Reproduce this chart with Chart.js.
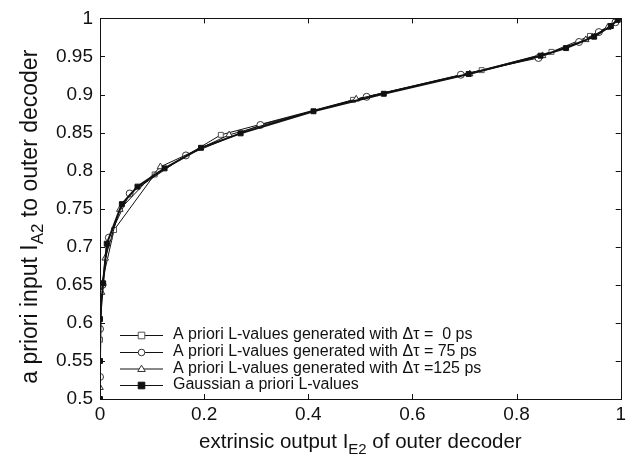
<!DOCTYPE html>
<html>
<head>
<meta charset="utf-8">
<script src="https://cdn.jsdelivr.net/npm/chart.js@4"></script>
<style>
html,body{margin:0;padding:0;background:#fff;}
#wrap{width:630px;height:463px;position:relative;}
</style>
</head>
<body>
<div id="wrap"><canvas id="c" width="630" height="463"></canvas></div>
<script>
// ---- data ----
const xTicks = [0, 0.2, 0.4, 0.6, 0.8, 1];
const yTicks = [0.5, 0.55, 0.6, 0.65, 0.7, 0.75, 0.8, 0.85, 0.9, 0.95, 1];

const legendLabels = [
  "A priori L-values generated with \u0394\u03c4 =  0 ps",
  "A priori L-values generated with \u0394\u03c4 = 75 ps",
  "A priori L-values generated with \u0394\u03c4 =125 ps",
  "Gaussian a priori L-values"
];

const tau0X   = [0, 0.003, 0.027, 0.105, 0.232, 0.486, 0.733, 0.867, 0.941, 0.98, 1];
const tau0Y   = [0.578, 0.65, 0.722, 0.795, 0.847, 0.893, 0.932, 0.956, 0.977, 0.99, 1];

const tau75X  = [0, 0, 0.005, 0.017, 0.057, 0.165, 0.308, 0.512, 0.693, 0.842, 0.92, 0.958, 0.99, 1];
const tau75Y  = [0.529, 0.592, 0.65, 0.712, 0.77, 0.82, 0.86, 0.897, 0.926, 0.948, 0.969, 0.982, 0.995, 1];

const tau125X = [0, 0.003, 0.01, 0.038, 0.116, 0.248, 0.492, 0.71, 0.85, 0.933, 0.975, 1];
const tau125Y = [0.515, 0.64, 0.685, 0.749, 0.805, 0.847, 0.894, 0.927, 0.951, 0.972, 0.988, 1];

const gaussX  = [0, 0, 0, 0.006, 0.013, 0.042, 0.072, 0.124, 0.194, 0.27, 0.41, 0.545, 0.708, 0.846, 0.895, 0.949, 0.981, 0.994, 1];
const gaussY  = [0.5, 0.55, 0.605, 0.652, 0.704, 0.756, 0.779, 0.803, 0.83, 0.849, 0.878, 0.901, 0.927, 0.951, 0.961, 0.976, 0.99, 0.998, 1];

function pts(xs, ys){ return xs.map((x,i)=>({x:x, y:ys[i]})); }

const FONT = "'Liberation Sans', Arial, Helvetica, sans-serif";

const styles = [
  {pointStyle:'rect', bg:'#fff', border:'#555', lw:1, r:3.5},
  {pointStyle:'circle', bg:'#fff', border:'#333', lw:1, r:3.5},
  {pointStyle:'triangle', bg:'#fff', border:'#333', lw:1, r:3.8},
  {pointStyle:'rect', bg:'#111', border:'#111', lw:2, r:3.5}
];

const series = [pts(tau0X,tau0Y), pts(tau75X,tau75Y), pts(tau125X,tau125Y), pts(gaussX,gaussY)];

const datasets = series.map((d,i)=>({
  label: legendLabels[i],
  data: d,
  showLine: true,
  tension: 0,
  borderColor: '#111',
  borderWidth: styles[i].lw,
  pointStyle: styles[i].pointStyle,
  pointRadius: styles[i].r,
  pointBackgroundColor: styles[i].bg,
  pointBorderColor: styles[i].border,
  pointBorderWidth: 1,
  order: 4 - i
}));

const framePlugin = {
  id: 'frame',
  afterDraw(chart){
    const ctx = chart.ctx, a = chart.chartArea;
    const xs = chart.scales.x, ys = chart.scales.y;
    ctx.save();
    ctx.strokeStyle = '#111';
    ctx.lineWidth = 1;
    ctx.strokeRect(Math.round(a.left)+0.5, Math.round(a.top)+0.5, Math.round(a.right-a.left), Math.round(a.bottom-a.top));
    const tl = 5;
    ctx.beginPath();
    xTicks.forEach(v=>{
      const px = Math.round(xs.getPixelForValue(v))+0.5;
      ctx.moveTo(px, a.bottom); ctx.lineTo(px, a.bottom - tl);
      ctx.moveTo(px, a.top); ctx.lineTo(px, a.top + tl);
    });
    yTicks.forEach(v=>{
      const py = Math.round(ys.getPixelForValue(v))+0.5;
      ctx.moveTo(a.left, py); ctx.lineTo(a.left + tl, py);
      ctx.moveTo(a.right, py); ctx.lineTo(a.right - tl, py);
    });
    ctx.stroke();

    // legend
    const lx0 = 120, lx1 = 163, tx = 173;
    const rowY = [335, 352, 368.5, 385];
    ctx.font = "16px " + FONT;
    ctx.textBaseline = 'middle';
    ctx.fillStyle = '#111';
    datasets.forEach((ds,i)=>{
      const y = rowY[i];
      ctx.beginPath();
      ctx.strokeStyle = '#111';
      ctx.lineWidth = 1;
      ctx.moveTo(lx0, y+0.5); ctx.lineTo(lx1, y+0.5);
      ctx.stroke();
      ctx.save();
      ctx.fillStyle = styles[i].bg; ctx.strokeStyle = styles[i].border; ctx.lineWidth = 1;
      ctx.beginPath();
      const cx=(lx0+lx1)/2, cy=y+0.5, r=3.3;
      if(styles[i].pointStyle==='rect'){ ctx.rect(cx-r,cy-r,2*r,2*r); }
      else if(styles[i].pointStyle==='circle'){ ctx.arc(cx,cy,r,0,Math.PI*2); }
      else { ctx.moveTo(cx,cy-r-0.5); ctx.lineTo(cx+r+0.5,cy+r*0.75); ctx.lineTo(cx-r-0.5,cy+r*0.75); ctx.closePath(); }
      ctx.fill(); ctx.stroke();
      ctx.restore();
      ctx.fillStyle = '#111';
      ctx.textAlign = 'left';
      ctx.fillText(ds.label, tx, y);
    });

    // axis titles with subscripts
    function drawSubText(parts, cx, cy, tsz){
      const ssz = Math.round(tsz*0.72);
      let total = 0;
      parts.forEach(p=>{ ctx.font = (p.sub?ssz:tsz)+"px "+FONT; p.w = ctx.measureText(p.t).width; total += p.w; });
      let x = cx - total/2;
      ctx.textAlign = 'left';
      ctx.textBaseline = 'alphabetic';
      parts.forEach(p=>{
        ctx.font = (p.sub?ssz:tsz)+"px "+FONT;
        ctx.fillText(p.t, x, cy + (p.sub?Math.round(tsz*0.28):0));
        x += p.w;
      });
    }
    ctx.fillStyle = '#111';
    drawSubText([{t:'extrinsic output I'},{t:'E2',sub:true},{t:' of outer decoder'}], (a.left+a.right)/2, 448, 20.5);
    ctx.save();
    ctx.translate(37, (a.top+a.bottom)/2 + 8);
    ctx.rotate(-Math.PI/2);
    drawSubText([{t:'a priori input I'},{t:'A2',sub:true},{t:' to outer decoder'}], 0, 0, 23);
    ctx.restore();
    ctx.restore();
  }
};

new Chart(document.getElementById('c'), {
  type: 'scatter',
  data: { datasets },
  options: {
    responsive: false,
    animation: false,
    devicePixelRatio: 1,
    layout: { padding: { top: 15, right: 5, left: 0, bottom: 0 } },
    plugins: { legend: { display: false }, tooltip: { enabled: false } },
    scales: {
      x: {
        type: 'linear', min: 0, max: 1,
        afterBuildTicks(s){ s.ticks = xTicks.map(v=>({value:v})); },
        afterFit(s){ s.height = 64; },
        grid: { display: false, drawTicks: false },
        border: { display: false },
        ticks: { padding: 4, color: '#111', font: { size: 19, family: FONT }, maxRotation: 0,
                 callback: v => String(+v.toFixed(2)) }
      },
      y: {
        type: 'linear', min: 0.5, max: 1,
        afterBuildTicks(s){ s.ticks = yTicks.map(v=>({value:v})); },
        afterFit(s){ s.width = 100; },
        grid: { display: false, drawTicks: false },
        border: { display: false },
        ticks: { padding: 7, color: '#111', font: { size: 19, family: FONT },
                 callback: v => String(+v.toFixed(2)) }
      }
    }
  },
  plugins: [framePlugin]
});
</script>
</body>
</html>
